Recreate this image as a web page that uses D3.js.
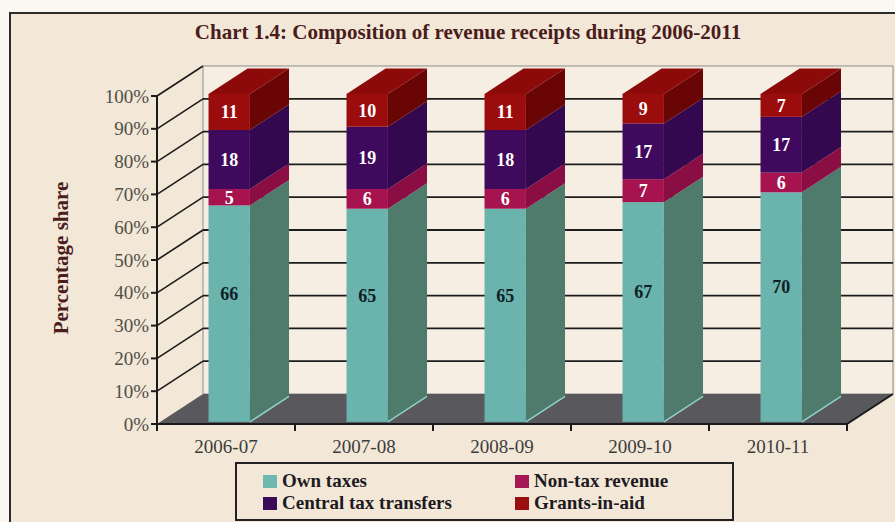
<!DOCTYPE html>
<html>
<head>
<meta charset="utf-8">
<script src="https://cdn.jsdelivr.net/npm/d3@7"></script>
<style>
  html, body { margin: 0; padding: 0; background: #fbf8f2; }
  svg { display: block; }
  text { font-family: "Liberation Serif", "Times New Roman", serif; }
</style>
</head>
<body>
<svg id="chart" width="895" height="522"></svg>
<script>
// Composition of revenue receipts, percentage share by year
const years = ["2006-07", "2007-08", "2008-09", "2009-10", "2010-11"];
const ownTaxes = [66, 65, 65, 67, 70];
const nonTaxRevenue = [5, 6, 6, 7, 6];
const centralTaxTransfers = [18, 19, 18, 17, 17];
const grantsInAid = [11, 10, 11, 9, 7];
const seriesNames = ["Own taxes", "Non-tax revenue", "Central tax transfers", "Grants-in-aid"];
const yTicks = [0, 10, 20, 30, 40, 50, 60, 70, 80, 90, 100];

const keys = ["own", "nontax", "central", "grants"];
const table = years.map((yr, i) => ({
  year: yr,
  own: ownTaxes[i],
  nontax: nonTaxRevenue[i],
  central: centralTaxTransfers[i],
  grants: grantsInAid[i]
}));

// face colours: front, side, top
const palette = {
  own:     { front: "#6ab4ad", side: "#4e7b6b", top: "#5fa79f" },
  nontax:  { front: "#a6134f", side: "#8a0e43", top: "#9a1049" },
  central: { front: "#3f0a5d", side: "#34084f", top: "#3a0956" },
  grants:  { front: "#9b0d0d", side: "#690505", top: "#8c0a0a" }
};
const legendColors = ["#6fb8b1", "#a51a55", "#3b0b5a", "#9a1010"];

const svg = d3.select("#chart");

// panel
svg.append("rect")
  .attr("x", 10).attr("y", 13).attr("width", 900).attr("height", 530)
  .attr("fill", "#f3e7d7").attr("stroke", "#2b2b2b").attr("stroke-width", 2);

// title
svg.append("text")
  .attr("x", 468).attr("y", 39)
  .attr("text-anchor", "middle")
  .attr("font-size", 21).attr("font-weight", "bold")
  .attr("fill", "#4a1c1c")
  .text("Chart 1.4: Composition of revenue receipts during 2006-2011");

// scales (front plane) and depth projection
const x = d3.scaleBand().domain(years).range([157, 847]);
const y = d3.scaleLinear().domain([0, 100]).range([424, 96]);
const DX = 46, DY = -30;
const P = (px, v, z) => [px + z * DX, y(v) + z * DY];
const poly = pts => pts.map(p => p.join(",")).join(" ");

const x0 = x.range()[0], x1 = x.range()[1];

// back wall
svg.append("polygon")
  .attr("points", poly([P(x0, 0, 1), P(x1, 0, 1), P(x1, 100, 1), P(x0, 100, 1)]))
  .attr("fill", "#f6eee3").attr("stroke", "#8a8a8a").attr("stroke-width", 1);

// back wall gridlines
svg.append("g").selectAll("line")
  .data(yTicks.filter(t => t > 0 && t < 100))
  .join("line")
  .attr("x1", t => P(x0, t, 1)[0]).attr("y1", t => P(x0, t, 1)[1])
  .attr("x2", t => P(x1, t, 1)[0]).attr("y2", t => P(x1, t, 1)[1])
  .attr("stroke", "#1c1c1c").attr("stroke-width", 1.8);

// side wall gridlines
svg.append("g").selectAll("line")
  .data(yTicks.filter(t => t > 0))
  .join("line")
  .attr("x1", t => P(x0, t, 0)[0]).attr("y1", t => P(x0, t, 0)[1])
  .attr("x2", t => P(x0, t, 1)[0]).attr("y2", t => P(x0, t, 1)[1])
  .attr("stroke", "#1c1c1c").attr("stroke-width", 1.6);

// floor
svg.append("polygon")
  .attr("points", poly([P(x0, 0, 0), P(x1, 0, 0), P(x1, 0, 1), P(x0, 0, 1)]))
  .attr("fill", "#58585d");

// bars
const stacked = d3.stack().keys(keys)(table);
const bw = x.bandwidth();
const barW = bw * 0.30;
const z0 = 0.07, z1 = 0.92;

const barsG = svg.append("g");
years.forEach((yr, i) => {
  const xl = x(yr) + (bw - barW) / 2;
  const xr = xl + barW;
  const g = barsG.append("g");
  stacked.forEach(layer => {
    const v0 = layer[i][0], v1 = layer[i][1];
    const c = palette[layer.key];
    g.append("polygon")
      .attr("points", poly([P(xr, v0, z0), P(xr, v0, z1), P(xr, v1, z1), P(xr, v1, z0)]))
      .attr("fill", c.side);
    const a = P(xl, v1, z0), b = P(xr, v0, z0);
    g.append("rect")
      .attr("x", a[0]).attr("y", a[1])
      .attr("width", b[0] - a[0]).attr("height", b[1] - a[1])
      .attr("fill", c.front);
  });
  const topLayer = stacked[stacked.length - 1];
  const vt = topLayer[i][1];
  g.append("polygon")
    .attr("points", poly([P(xl, vt, z0), P(xr, vt, z0), P(xr, vt, z1), P(xl, vt, z1)]))
    .attr("fill", palette[topLayer.key].top);
  // lit lower edge of the side face
  const e0 = P(xr, 0, z0), e1 = P(xr, 0, z1);
  g.append("line")
    .attr("x1", e0[0]).attr("y1", e0[1]).attr("x2", e1[0]).attr("y2", e1[1])
    .attr("stroke", "#8fd0c8").attr("stroke-width", 1.5);

  // value labels
  stacked.forEach((layer, k) => {
    const v0 = layer[i][0], v1 = layer[i][1];
    const p = P((xl + xr) / 2, (v0 + v1) / 2, z0);
    const lift = k === 0 ? -20 : 0;
    g.append("text")
      .attr("x", p[0]).attr("y", p[1] + lift)
      .attr("dy", "0.35em")
      .attr("text-anchor", "middle")
      .attr("font-size", 18).attr("font-weight", "bold")
      .attr("fill", k === 0 ? "#0f1f28" : "#ffffff")
      .text(v1 - v0);
  });
});

// value axis
const axisG = svg.append("g");
axisG.append("line")
  .attr("x1", x0).attr("y1", y(0)).attr("x2", x0).attr("y2", y(100))
  .attr("stroke", "#1a1a1a").attr("stroke-width", 2);
axisG.selectAll("line.tick")
  .data(yTicks)
  .join("line").attr("class", "tick")
  .attr("x1", x0 - 6).attr("x2", x0)
  .attr("y1", t => y(t)).attr("y2", t => y(t))
  .attr("stroke", "#1a1a1a").attr("stroke-width", 2);
axisG.selectAll("text")
  .data(yTicks)
  .join("text")
  .attr("x", x0 - 8).attr("y", t => y(t))
  .attr("dy", "0.35em")
  .attr("text-anchor", "end")
  .attr("font-size", 19)
  .attr("fill", "#4f4f48")
  .text(t => t + "%");

// category axis
const catG = svg.append("g");
catG.append("line")
  .attr("x1", x0).attr("y1", y(0)).attr("x2", x1).attr("y2", y(0))
  .attr("stroke", "#1a1a1a").attr("stroke-width", 2);
const edgeA = P(x1, 0, 0), edgeB = P(x1, 0, 1);
catG.append("line")
  .attr("x1", edgeA[0]).attr("y1", edgeA[1]).attr("x2", edgeB[0]).attr("y2", edgeB[1])
  .attr("stroke", "#1a1a1a").attr("stroke-width", 2);
const bounds = years.map(yr => x(yr)).concat([x1]);
catG.selectAll("line.tick")
  .data(bounds)
  .join("line").attr("class", "tick")
  .attr("x1", d => d).attr("x2", d => d)
  .attr("y1", y(0)).attr("y2", y(0) + 7)
  .attr("stroke", "#1a1a1a").attr("stroke-width", 2);
catG.selectAll("text")
  .data(years)
  .join("text")
  .attr("x", d => x(d) + bw / 2).attr("y", 453)
  .attr("text-anchor", "middle")
  .attr("font-size", 19)
  .attr("fill", "#3c3c3c")
  .text(d => d);

// value axis title
svg.append("text")
  .attr("transform", "translate(68,258) rotate(-90)")
  .attr("text-anchor", "middle")
  .attr("font-size", 21).attr("font-weight", "bold")
  .attr("fill", "#4a1c1c")
  .text("Percentage share");

// legend
const leg = svg.append("g");
leg.append("rect")
  .attr("x", 236).attr("y", 463).attr("width", 497).attr("height", 57)
  .attr("fill", "#f3e7d7").attr("stroke", "#222").attr("stroke-width", 2);
const legPos = [[263, 475], [515, 475], [263, 497], [515, 497]];
seriesNames.forEach((name, k) => {
  const [lx, ly] = legPos[k];
  leg.append("rect")
    .attr("x", lx).attr("y", ly).attr("width", 14).attr("height", 13)
    .attr("fill", legendColors[k]);
  leg.append("text")
    .attr("x", lx + 19).attr("y", ly + 12)
    .attr("font-size", 19).attr("font-weight", "bold")
    .attr("fill", "#1e1a22")
    .text(name);
});
</script>
</body>
</html>
